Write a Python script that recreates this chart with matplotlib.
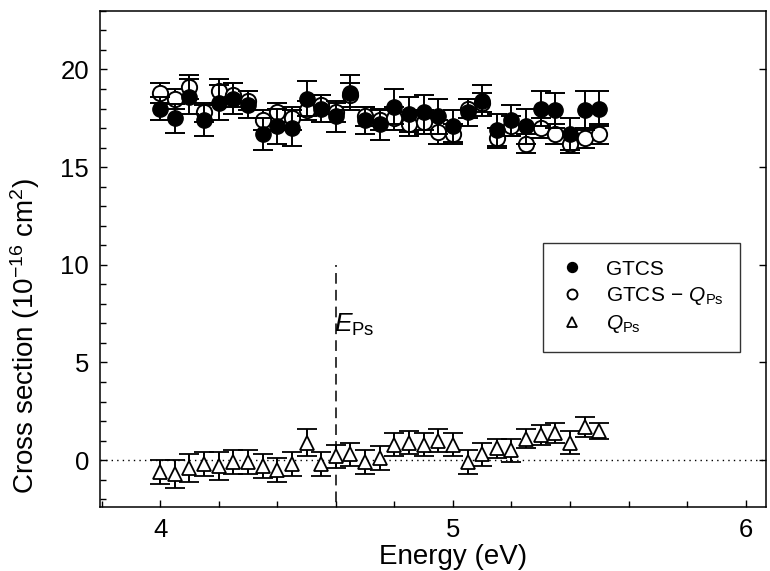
import matplotlib.pyplot as plt
from matplotlib.ticker import MultipleLocator

plt.rcParams['font.family'] = ['Liberation Sans', 'DejaVu Sans']
plt.rcParams['mathtext.fontset'] = 'custom'
plt.rcParams['mathtext.rm'] = 'Liberation Sans'
plt.rcParams['mathtext.it'] = 'Liberation Sans:italic'

# energies (eV)
energy = [4.00, 4.05, 4.10, 4.15, 4.20, 4.25, 4.30, 4.35, 4.40, 4.45,
          4.50, 4.55, 4.60, 4.65, 4.70, 4.75, 4.80, 4.85, 4.90, 4.95,
          5.00, 5.05, 5.10, 5.15, 5.20, 5.25, 5.30, 5.35, 5.40, 5.45, 5.50]

gtcs = [18.0, 17.5, 18.6, 17.4, 18.3, 18.5, 18.2, 16.7, 17.1, 17.0,
        18.5, 18.0, 17.6, 18.8, 17.4, 17.2, 18.1, 17.7, 17.8, 17.6,
        17.1, 17.8, 18.4, 16.9, 17.4, 17.1, 18.0, 17.9, 16.7, 17.9, 18.0]
gtcs_err = [0.6, 0.75, 0.9, 0.8, 0.9, 0.8, 0.7, 0.8, 0.9, 0.9,
            0.9, 0.7, 0.8, 0.9, 0.7, 0.8, 0.9, 0.9, 0.9, 0.9,
            0.8, 0.7, 0.8, 0.8, 0.8, 0.9, 0.9, 0.9, 0.8, 1.0, 0.9]

gtcs_q = [18.8, 18.5, 19.1, 17.8, 18.9, 18.7, 18.4, 17.4, 17.8, 17.5,
          17.9, 18.2, 17.8, 18.7, 17.6, 17.4, 17.5, 17.2, 17.3, 16.8,
          16.7, 18.0, 18.3, 16.5, 17.1, 16.2, 17.0, 16.7, 16.2, 16.5, 16.7]
gtcs_q_err = [0.5, 0.5, 0.6, 0.5, 0.6, 0.6, 0.5, 0.5, 0.5, 0.6,
              0.5, 0.5, 0.5, 0.6, 0.5, 0.5, 0.6, 0.6, 0.6, 0.6,
              0.5, 0.5, 0.5, 0.5, 0.5, 0.5, 0.5, 0.5, 0.5, 0.5, 0.5]

q_ps = [-0.6, -0.7, -0.4, -0.2, -0.3, -0.1, -0.1, -0.3, -0.5, -0.2,
        0.9, -0.2, 0.2, 0.3, -0.1, 0.1, 0.8, 0.9, 0.8, 1.0,
        0.8, -0.1, 0.3, 0.6, 0.5, 1.1, 1.3, 1.4, 0.9, 1.7, 1.5]
q_ps_err = [0.6, 0.7, 0.7, 0.6, 0.7, 0.6, 0.6, 0.6, 0.6, 0.6,
            0.7, 0.6, 0.6, 0.6, 0.6, 0.6, 0.6, 0.6, 0.6, 0.6,
            0.6, 0.6, 0.6, 0.5, 0.6, 0.5, 0.5, 0.5, 0.6, 0.5, 0.4]

E_ps = 4.6

fig = plt.figure(figsize=(7.7, 5.71), dpi=100)
ax = fig.add_axes([0.13, 0.112, 0.865, 0.869])

ax.axhline(0, color='black', lw=1, ls=(0, (1, 3)))
ax.plot([E_ps, E_ps], [-3, 10], color='black', lw=1.1, ls=(0, (7, 4)))
ax.text(E_ps - 0.005, 6.9, r'$E_{\mathrm{Ps}}$', fontsize=19, va='center', ha='left')

eb = dict(ecolor='black', elinewidth=1.4, capsize=7, capthick=1.4, ls='none')
ax.errorbar(energy, gtcs_q, yerr=gtcs_q_err, fmt='o', ms=11, mfc='white',
            mec='black', mew=1.4, label=r'GTCS$\,-\,Q_{\mathrm{Ps}}$', zorder=3, **eb)
ax.errorbar(energy, gtcs, yerr=gtcs_err, fmt='o', ms=11, mfc='black',
            mec='black', label='GTCS', zorder=4, **eb)
ax.errorbar(energy, q_ps, yerr=q_ps_err, fmt='^', ms=10, mfc='white',
            mec='black', mew=1.3, label=r'$Q_{\mathrm{Ps}}$', zorder=3, **eb)

ax.set_xlim(3.795, 6.07)
ax.set_ylim(-2.4, 23)
ax.xaxis.set_major_locator(MultipleLocator(1))
ax.xaxis.set_minor_locator(MultipleLocator(0.2))
ax.yaxis.set_major_locator(MultipleLocator(5))
ax.yaxis.set_minor_locator(MultipleLocator(1))
ax.tick_params(which='both', direction='in', labelsize=18.5, right=True)
ax.tick_params(which='major', length=5, width=1, pad=8)
ax.tick_params(which='minor', length=4, width=1)
ax.tick_params(axis='y', which='minor', right=False)
for s in ax.spines.values():
    s.set_linewidth(1.1)

ax.set_xlabel('Energy (eV)', fontsize=20)
ax.set_ylabel(r'Cross section (10$^{-16}$ cm$^2$)', fontsize=20)
ax.xaxis.set_label_coords(0.53, -0.075)
ax.yaxis.set_label_coords(-0.087, 0.345)

h, l = ax.get_legend_handles_labels()
order = [1, 0, 2]
leg = ax.legend([h[i][0] for i in order], [l[i] for i in order],
                loc='upper left', bbox_to_anchor=(0.665, 0.532), fontsize=15,
                frameon=True, fancybox=False, edgecolor='black', markerscale=0.65,
                handlelength=1.2, handletextpad=1.0, borderpad=0.8, labelspacing=0.3,
                borderaxespad=0)
leg.get_frame().set_linewidth(1.0)

fig.savefig('out.png', dpi=100)
